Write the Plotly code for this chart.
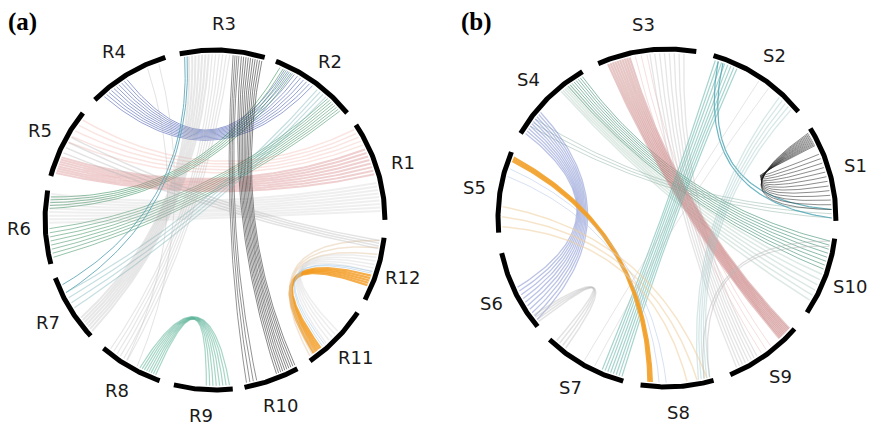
import numpy as np
import plotly.graph_objects as go

# ---------------- data: panel (a) ----------------
a_labels = ["R1", "R2", "R3", "R4", "R5", "R6", "R7", "R8", "R9", "R10", "R11", "R12"]
# chords: source segment / target segment, strand counts
a_src = ["R4", "R2", "R2", "R1", "R1", "R1", "R3", "R3", "R12", "R12", "R12", "R8", "R3", "R2", "R3", "R7", "R12", "R4", "R12"]
a_dst = ["R2", "R6", "R6", "R5", "R5", "R6", "R10", "R10", "R11", "R11", "R11", "R9", "R7", "R7", "R8", "R3", "R5", "R8", "R11"]
a_strands = [10, 5, 8, 8, 5, 9, 10, 4, 5, 3, 5, 8, 2, 4, 6, 7, 4, 2, 2]
# where the strands attach inside each segment (fraction of the segment)
a_src_from = [0.54, 0.77, 0.07, 0.47, 0.79, 0.09, 0.02, 0.30, 0.22, 0.73, 0.45, 0.64, 0.92, 0.30, 0.41, 0.70, 0.82, 0.10, 0.42]
a_src_to   = [0.89, 0.93, 0.27, 0.74, 0.97, 0.38, 0.27, 0.37, 0.38, 0.95, 0.68, 0.91, 0.95, 0.43, 0.62, 0.96, 0.95, 0.25, 0.45]
a_dst_from = [0.50, 0.08, 0.52, 0.70, 0.08, 0.04, 0.62, 0.05, 0.11, 0.04, 0.35, 0.55, 0.13, 0.26, 0.09, 0.66, 0.38, 0.40, 0.28]
a_dst_to   = [0.87, 0.24, 0.92, 0.94, 0.46, 0.44, 0.99, 0.24, 0.24, 0.13, 0.60, 0.95, 0.26, 0.52, 0.41, 0.90, 0.63, 0.59, 0.32]

# ---------------- data: panel (b) ----------------
b_labels = ["S1", "S2", "S3", "S4", "S5", "S6", "S7", "S8", "S9", "S10"]
b_src = ["S4", "S4", "S4", "S3", "S3", "S3", "S2", "S2", "S2", "S2", "S1", "S4", "S5", "S5", "S6", "S10", "S5"]
b_dst = ["S10", "S10", "S1", "S9", "S9", "S9", "S7", "S1", "S8", "S7", "S1", "S6", "S8", "S8", "S7", "S8", "S8"]
b_strands = [8, 6, 3, 10, 8, 3, 8, 2, 5, 2, 13, 10, 3, 3, 4, 2, 2]
b_src_from = [0.03, 0.20, 0.77, 0.68, 0.12, 0.50, 0.74, 0.89, 0.06, 0.37, 0.82, 0.67, 0.05, 0.68, 0.86, 0.89, 0.20]
b_src_to   = [0.23, 0.33, 0.87, 0.91, 0.47, 0.62, 0.97, 0.94, 0.23, 0.49, 0.97, 0.97, 0.10, 0.93, 0.96, 0.96, 0.30]
b_dst_from = [0.59, 0.15, 0.03, 0.78, 0.11, 0.48, 0.72, 0.03, 0.80, 0.48, 0.12, 0.46, 0.10, 0.64, 0.07, 0.88, 0.25]
b_dst_to   = [0.96, 0.52, 0.12, 0.96, 0.41, 0.63, 0.97, 0.12, 0.96, 0.62, 0.72, 0.93, 0.15, 0.92, 0.21, 0.96, 0.35]

# ---------------- layout / style ----------------
a_seg_start = [0, 39, 73, 107, 141, 170, 200, 229, 256, 280, 304, 332]
a_seg_end   = [34, 69, 102, 135, 165, 195, 223, 251, 276, 299, 327, 354]
b_seg_start = [-1, 39, 80, 120, 157, 192, 226, 261, 292, 326]
b_seg_end   = [32, 74, 114, 150, 185, 220, 255, 286, 319, 353]

a_colors = ["#3f55b0", "#2f8a55", "#2f8a55", "#d07575", "#f0a8a0", "#b4b4b4", "#222222", "#222222",
            "#f39a1e", "#e6c9a8", "#c8c8c8", "#4fae90", "#4f9fb0", "#7fb5bb", "#b0b0b0", "#a8a8a8",
            "#b0b0b0", "#b8b8b8", "#9cc3e6"]
a_alpha = [0.55, 0.55, 0.5, 0.35, 0.3, 0.22, 0.6, 0.55, 0.8, 0.5, 0.3, 0.5, 0.8, 0.45, 0.3, 0.28, 0.35, 0.4, 0.5]
a_width = [1.0, 1.0, 1.0, 2.0, 1.5, 2.0, 0.9, 0.9, 2.2, 1.5, 1.5, 1.2, 1.0, 1.2, 1.2, 2.0, 1.5, 1.0, 1.0]

b_colors = ["#3f9070", "#9fbfb0", "#8fb3a8", "#c98080", "#aaaaaa", "#e8b0b0", "#5fb0a5", "#4aa3b3",
            "#9cc4c4", "#c0c0c0", "#1a1a1a", "#5468c0", "#f2a028", "#efcf9f", "#b8b8b8", "#bbbbbb", "#b0c4e8"]
b_alpha = [0.6, 0.35, 0.5, 0.45, 0.3, 0.4, 0.55, 0.8, 0.4, 0.4, 0.5, 0.4, 0.9, 0.55, 0.4, 0.5, 0.5]
b_width = [1.0, 1.5, 1.0, 2.2, 1.3, 1.0, 1.2, 1.2, 1.3, 1.0, 1.0, 1.3, 2.2, 1.5, 1.5, 1.2, 1.0]

R_CHORD = 0.975
K_CTRL = 0.12
LABEL_R = 1.155


def rgba(hexc, a):
    h = hexc.lstrip("#")
    r, g, b = int(h[0:2], 16), int(h[2:4], 16), int(h[4:6], 16)
    return f"rgba({r},{g},{b},{a})"


def add_panel(fig, labels, s0, s1, src, sf0, sf1, dst, df0, df1, n, colors, alphas, widths, xa, ya):
    idx = {l: i for i, l in enumerate(labels)}
    t = np.linspace(0, 1, 70)
    for k in range(len(src)):
        i, j = idx[src[k]], idx[dst[k]]
        sa = np.radians(s0[i] + np.linspace(sf0[k], sf1[k], n[k]) * (s1[i] - s0[i]))
        da = np.radians(s0[j] + np.linspace(df1[k], df0[k], n[k]) * (s1[j] - s0[j]))
        xs, ys = [], []
        for a0, a1 in zip(sa, da):
            p0 = R_CHORD * np.array([np.cos(a0), np.sin(a0)])
            p2 = R_CHORD * np.array([np.cos(a1), np.sin(a1)])
            c = K_CTRL * (p0 + p2)
            x = (1 - t) ** 2 * p0[0] + 2 * (1 - t) * t * c[0] + t ** 2 * p2[0]
            y = (1 - t) ** 2 * p0[1] + 2 * (1 - t) * t * c[1] + t ** 2 * p2[1]
            xs += list(x) + [None]
            ys += list(y) + [None]
        fig.add_trace(go.Scatter(x=xs, y=ys, mode="lines",
                                 line=dict(color=rgba(colors[k], alphas[k]), width=widths[k]),
                                 xaxis=xa, yaxis=ya, hoverinfo="skip", showlegend=False))
    for i, lab in enumerate(labels):
        th = np.radians(np.linspace(s0[i], s1[i], 60))
        fig.add_trace(go.Scatter(x=np.cos(th), y=np.sin(th), mode="lines",
                                 line=dict(color="black", width=5),
                                 xaxis=xa, yaxis=ya, hoverinfo="skip", showlegend=False))
        mid = np.radians(0.5 * (s0[i] + s1[i]))
        fig.add_annotation(x=LABEL_R * np.cos(mid), y=LABEL_R * np.sin(mid), text=lab,
                           xref=xa, yref=ya, showarrow=False,
                           font=dict(family="DejaVu Sans", size=18, color="#1a1a1a"),
                           xanchor="center", yanchor="middle")


fig = go.Figure()
add_panel(fig, a_labels, a_seg_start, a_seg_end, a_src, a_src_from, a_src_to, a_dst, a_dst_from, a_dst_to,
          a_strands, a_colors, a_alpha, a_width, "x", "y")
add_panel(fig, b_labels, b_seg_start, b_seg_end, b_src, b_src_from, b_src_to, b_dst, b_dst_from, b_dst_to,
          b_strands, b_colors, b_alpha, b_width, "x2", "y2")

for txt, px in (("<b>(a)</b>", 22), ("<b>(b)</b>", 477)):
    fig.add_annotation(x=px / 876, y=1 - 22 / 426, xref="paper", yref="paper", text=txt,
                       showarrow=False, xanchor="center", yanchor="middle",
                       font=dict(family="Liberation Serif", size=25, color="black"))

ax = dict(visible=False, fixedrange=True)
fig.update_layout(
    width=876, height=426, margin=dict(l=0, r=0, t=0, b=0),
    paper_bgcolor="white", plot_bgcolor="white",
    xaxis=dict(domain=[0, 0.5], range=[-1.265, 1.312], anchor="y", **ax),
    yaxis=dict(domain=[0, 1], range=[-1.212, 1.294], anchor="x", **ax),
    xaxis2=dict(domain=[0.5, 1], range=[-1.355, 1.237], anchor="y2", **ax),
    yaxis2=dict(domain=[0, 1], range=[-1.231, 1.290], anchor="x2", **ax),
)
fig.write_html("out.html", config={"displayModeBar": False},
               post_script="document.body.style.margin='0';document.body.style.overflow='hidden';")
